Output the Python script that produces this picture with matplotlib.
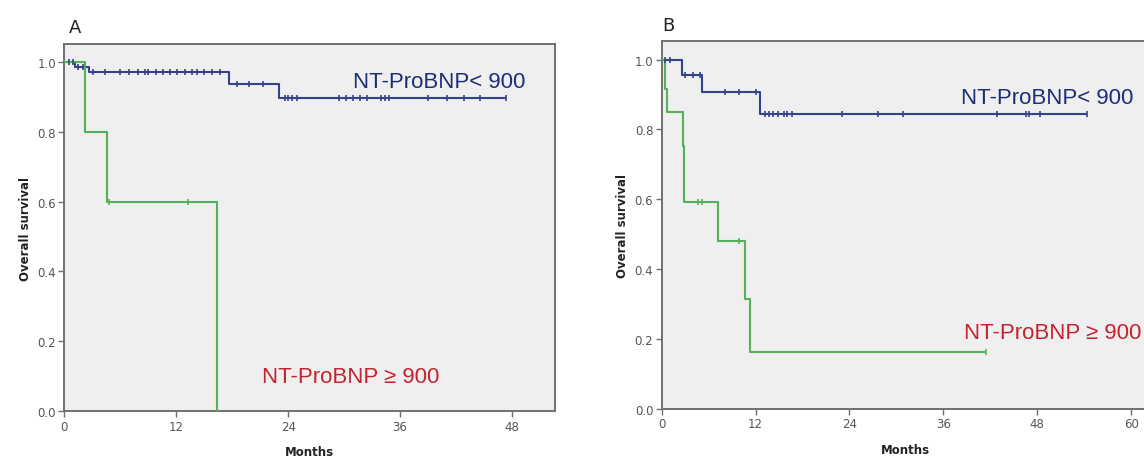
import numpy as np
import matplotlib
matplotlib.use("Agg")
import matplotlib.pyplot as plt

# ---------------- data ----------------
# Panel A
a_low_times = [0, 1.2, 2.7, 17.7, 23.0]
a_low_surv = [1.0, 0.985, 0.97, 0.935, 0.896]
a_low_end = 47.3
a_low_cens = [0.5, 0.9, 1.5, 2.0, 3.1, 4.4, 6.0, 6.9, 7.9, 8.7, 9.0, 9.8, 10.6, 11.3,
              12.1, 12.9, 13.7, 14.2, 15.0, 15.8, 16.7, 18.5, 19.8, 21.3, 23.7, 24.0,
              24.4, 25.0, 29.4, 30.2, 31.0, 31.7, 32.5, 34.0, 34.4, 34.8, 39.0, 41.0,
              42.9, 44.6, 47.3]

a_high_times = [0, 2.2, 4.6, 16.4]
a_high_surv = [1.0, 0.8, 0.6, 0.0]
a_high_end = 16.4
a_high_cens = [4.8, 13.3]

# Panel B
b_low_times = [0, 2.55, 5.2, 12.6]
b_low_surv = [1.0, 0.955, 0.908, 0.844]
b_low_end = 54.4
b_low_cens = [0.4, 1.0, 3.0, 4.0, 4.9, 8.1, 9.9, 12.0, 13.2, 13.7, 14.2, 14.9, 15.6,
              16.0, 16.7, 23.0, 27.6, 30.9, 42.8, 46.5, 47.0, 48.3, 54.4]

b_high_times = [0, 0.42, 0.64, 2.7, 2.8, 7.15, 10.6, 11.3]
b_high_surv = [1.0, 0.915, 0.85, 0.753, 0.593, 0.48, 0.315, 0.162]
b_high_end = 41.4
b_high_cens = [4.7, 5.1, 9.9, 41.4]

xticks_a = [0, 12, 24, 36, 48]
xticks_b = [0, 12, 24, 36, 48, 60]
yticks = [0.0, 0.2, 0.4, 0.6, 0.8, 1.0]

label_low = "NT-ProBNP< 900"
label_high = "NT-ProBNP \u2265 900"

# ---------------- styling ----------------
BLUE = "#34428a"
GREEN = "#55b05a"
TXT_BLUE = "#1f2d78"
TXT_RED = "#c4232f"
FRAME = "#707070"
BG = "#efefef"
LABEL_FONT = ["Liberation Sans", "DejaVu Sans"]

fig = plt.figure(figsize=(11.44, 4.64), dpi=100)
fig.patch.set_facecolor("white")


def surv_at(times, surv, t):
    idx = np.searchsorted(np.asarray(times), t, side="right") - 1
    return np.asarray(surv)[idx]


def draw_km(ax, times, surv, end, cens, color):
    xs = list(times) + [end]
    ys = list(surv) + [surv[-1]]
    ax.step(xs, ys, where="post", color=color, lw=1.5, solid_capstyle="butt",
            zorder=3)
    cy = [surv_at(times, surv, c) for c in cens]
    ax.plot(cens, cy, linestyle="none", marker="|", markersize=4.5,
            markeredgewidth=1.2, color=color, zorder=4)


def style_axes(ax, xmax, ymax, xticks):
    ax.set_facecolor(BG)
    ax.set_xlim(0, xmax)
    ax.set_ylim(0, ymax)
    ax.set_xticks(xticks)
    ax.set_yticks(yticks)
    ax.set_yticklabels([f"{v:.1f}" for v in yticks])
    for s in ax.spines.values():
        s.set_color(FRAME)
        s.set_linewidth(1.4)
    ax.tick_params(direction="out", length=4, width=1.0, color=FRAME,
                   labelsize=8.5, labelcolor="#555555", pad=2)
    ax.set_xlabel("Months", fontsize=8.5, fontweight="bold", color="#222222",
                  labelpad=9)
    ax.set_ylabel("Overall survival", fontsize=8.5, fontweight="bold",
                  color="#222222", labelpad=4)


# Panel A
axA = fig.add_axes([0.0562, 0.1114, 0.4289, 0.7912])
style_axes(axA, 52.6, 1.05, xticks_a)
draw_km(axA, a_low_times, a_low_surv, a_low_end, a_low_cens, BLUE)
draw_km(axA, a_high_times, a_high_surv, a_high_end, a_high_cens, GREEN)
axA.text(40.2, 0.944, label_low, color=TXT_BLUE, fontsize=16, family=LABEL_FONT,
         ha="center", va="center", zorder=5)
axA.text(30.7, 0.10, label_high, color=TXT_RED, fontsize=16, family=LABEL_FONT,
         ha="center", va="center", zorder=5)

# Panel B
axB = fig.add_axes([0.5784, 0.1164, 0.4268, 0.793])
style_axes(axB, 62.4, 1.053, xticks_b)
draw_km(axB, b_low_times, b_low_surv, b_low_end, b_low_cens, BLUE)
draw_km(axB, b_high_times, b_high_surv, b_high_end, b_high_cens, GREEN)
axB.text(60.3, 0.891, label_low, color=TXT_BLUE, fontsize=16, family=LABEL_FONT,
         ha="right", va="center", zorder=5)
axB.text(61.3, 0.22, label_high, color=TXT_RED, fontsize=16, family=LABEL_FONT,
         ha="right", va="center", zorder=5)

fig.text(75 / 1144, 1 - 28 / 464, "A", fontsize=13, color="#222222",
         ha="center", va="center")
fig.text(668 / 1144, 1 - 26 / 464, "B", fontsize=13, color="#222222",
         ha="center", va="center")

fig.savefig("out.png", dpi=100, facecolor="white")
